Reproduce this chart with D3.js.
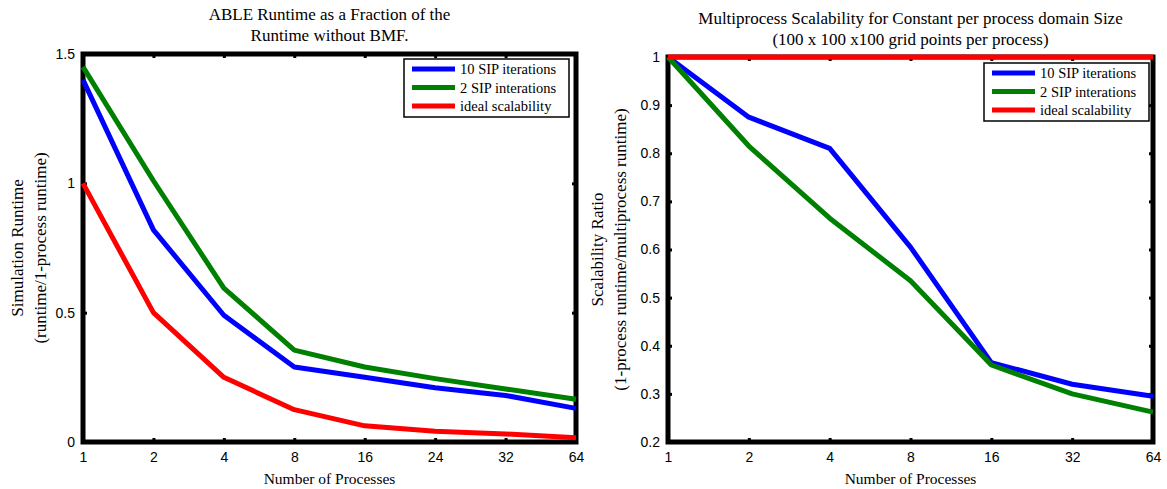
<!DOCTYPE html>
<meta charset="utf-8">
<style>
  body { margin: 0; background: #fff; }
  svg { display: block; font-family: "Liberation Serif", "DejaVu Serif", serif; }
  .tick text { font-size: 14px; fill: #000; }
  .domain { display: none; }
</style>
<body>
<svg width="1167" height="489"></svg>
<script src="https://d3js.org/d3.v7.min.js"></script>
<script>
// ---- data ----
var leftProcs = ["1", "2", "4", "8", "16", "24", "32", "64"];
var leftSip10 = [1.40, 0.82, 0.49, 0.29, 0.25, 0.21, 0.18, 0.13];
var leftSip2  = [1.45, 1.01, 0.595, 0.355, 0.29, 0.245, 0.205, 0.165];
var leftIdeal = [1.0, 0.5, 0.25, 0.125, 0.0625, 0.042, 0.031, 0.016];
var leftYTicks = [0, 0.5, 1, 1.5];

var rightProcs = ["1", "2", "4", "8", "16", "32", "64"];
var rightSip10 = [1.0, 0.875, 0.81, 0.605, 0.365, 0.32, 0.295];
var rightSip2  = [1.0, 0.815, 0.665, 0.535, 0.36, 0.30, 0.262];
var rightIdeal = [1, 1, 1, 1, 1, 1, 1];
var rightYTicks = [0.2, 0.3, 0.4, 0.5, 0.6, 0.7, 0.8, 0.9, 1];

var legendNames = ["10 SIP iterations", "2 SIP interations", "ideal scalability"];
var colors = ["#0000ff", "#008000", "#ff0000"];

var svg = d3.select("svg");

function blackTicks(s) {
  s.selectAll("line").attr("stroke", "#000").attr("stroke-width", 3);
}

function drawPanel(opt) {
  var x = d3.scalePoint().domain(opt.procs).range([opt.x0, opt.x1]);
  var y = d3.scaleLinear().domain(opt.yDomain).range([opt.y1, opt.y0]);
  var g = svg.append("g");

  // ticks on all four sides, pointing inward
  g.append("g").attr("transform", "translate(0," + opt.y1 + ")")
    .call(d3.axisBottom(x).tickSize(-4).tickPadding(10)).call(blackTicks);
  g.append("g").attr("transform", "translate(0," + opt.y0 + ")")
    .call(d3.axisTop(x).tickSize(-4).tickFormat("")).call(blackTicks);
  g.append("g").attr("transform", "translate(" + opt.x0 + ",0)")
    .call(d3.axisLeft(y).tickValues(opt.yTicks).tickSize(-4).tickPadding(8).tickFormat(d3.format("")))
    .call(blackTicks);
  g.append("g").attr("transform", "translate(" + opt.x1 + ",0)")
    .call(d3.axisRight(y).tickValues(opt.yTicks).tickSize(-4).tickFormat(""))
    .call(blackTicks);

  // frame
  g.append("rect")
    .attr("x", opt.x0).attr("y", opt.y0)
    .attr("width", opt.x1 - opt.x0).attr("height", opt.y1 - opt.y0)
    .attr("fill", "none").attr("stroke", "#000").attr("stroke-width", 5);

  var line = d3.line()
    .x(function(d, i) { return x(opt.procs[i]); })
    .y(function(d) { return y(d); });

  opt.series.forEach(function(s, k) {
    g.append("path")
      .datum(s)
      .attr("d", line)
      .attr("fill", "none")
      .attr("stroke", colors[k])
      .attr("stroke-width", 5)
      .attr("stroke-linejoin", "round");
  });

  // legend
  var lg = g.append("g").attr("transform", "translate(" + opt.legX + "," + opt.legY + ")");
  lg.append("rect").attr("width", 165).attr("height", 58)
    .attr("fill", "#fff").attr("stroke", "#000").attr("stroke-width", 1.5);
  legendNames.forEach(function(n, k) {
    var yy = 10 + k * 18.5;
    lg.append("line").attr("x1", 8).attr("x2", 51).attr("y1", yy).attr("y2", yy)
      .attr("stroke", colors[k]).attr("stroke-width", 5);
    lg.append("text").attr("x", 56).attr("y", yy + 5).attr("font-size", 14.5).text(n);
  });

  // titles and labels
  var cx = (opt.x0 + opt.x1) / 2;
  opt.title.forEach(function(t, i) {
    g.append("text").attr("x", cx).attr("y", opt.titleY + i * 20.5)
      .attr("text-anchor", "middle").attr("font-size", 17).text(t);
  });
  g.append("text").attr("x", cx).attr("y", 484)
    .attr("text-anchor", "middle").attr("font-size", 15.5).text("Number of Processes");
  var cy = (opt.y0 + opt.y1) / 2;
  opt.ylabel.forEach(function(t, i) {
    g.append("text")
      .attr("transform", "translate(" + (opt.ylabX + i * 23) + "," + cy + ") rotate(-90)")
      .attr("text-anchor", "middle").attr("font-size", 17).text(t);
  });
}

drawPanel({
  procs: leftProcs, yDomain: [0, 1.5], yTicks: leftYTicks,
  x0: 83, x1: 576, y0: 54, y1: 442,
  series: [leftSip10, leftSip2, leftIdeal],
  legX: 404, legY: 59, titleY: 20,
  title: ["ABLE Runtime as a Fraction of the", "Runtime without BMF."],
  ylabX: 23, ylabel: ["Simulation Runtime", "(runtime/1-process runtime)"]
});

drawPanel({
  procs: rightProcs, yDomain: [0.2, 1], yTicks: rightYTicks,
  x0: 668, x1: 1153, y0: 57, y1: 442,
  series: [rightSip10, rightSip2, rightIdeal],
  legX: 984, legY: 63, titleY: 24,
  title: ["Multiprocess Scalability for Constant per process domain Size", "(100 x 100 x100 grid points per process)"],
  ylabX: 603, ylabel: ["Scalability Ratio", "(1-process runtime/multiprocess runtime)"]
});
</script>
</body>
